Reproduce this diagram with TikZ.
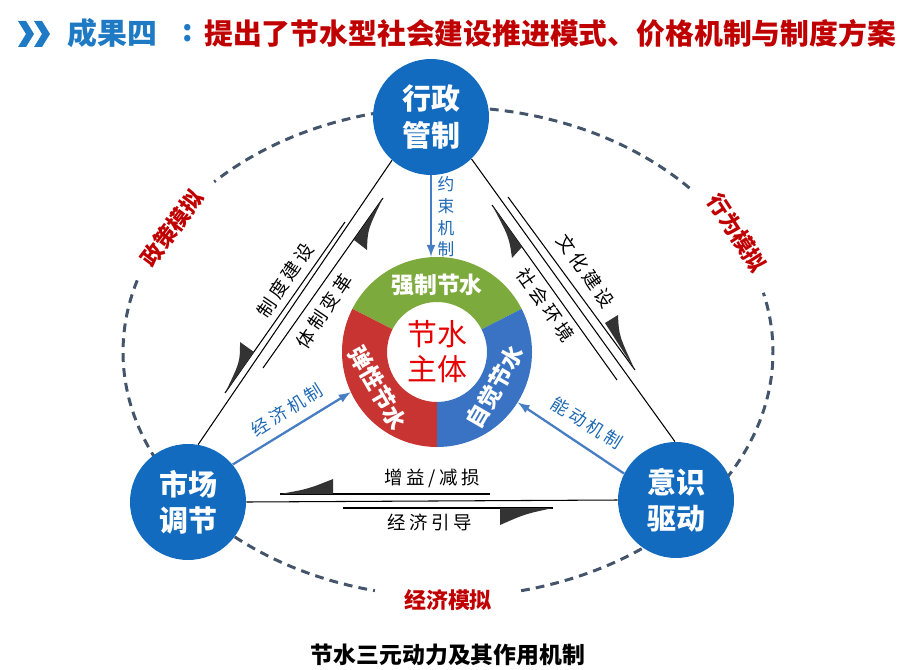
\documentclass[tikz,border=0pt]{standalone}
\usepackage{fontspec}
\setmainfont{Noto Sans CJK SC}
\newfontfamily\widefont[LetterSpace=20]{Noto Sans CJK SC}
\usepackage{tikz}
\usetikzlibrary{calc}
\usetikzlibrary{positioning}

\definecolor{hubblue}{RGB}{18,107,190}
\definecolor{titleblue}{RGB}{30,122,196}
\definecolor{darkred}{RGB}{192,0,0}
\definecolor{dashgray}{RGB}{68,84,106}
\definecolor{arrowblue}{RGB}{70,125,195}
\definecolor{labelblue}{RGB}{30,105,180}
\definecolor{ringgreen}{RGB}{125,170,60}
\definecolor{ringred}{RGB}{200,52,50}
\definecolor{ringblue}{RGB}{58,115,195}
\definecolor{heartred}{RGB}{230,0,0}

\begin{document}
\begin{tikzpicture}[x=0.02cm, y=-0.02cm,
    hub/.style={circle, fill=hubblue, text=white, inner sep=0pt, minimum size=2.32cm,
        align=center, font=\fontsize{16.5}{20.5}\selectfont\bfseries},
    mode/.style={text=darkred, font=\fontsize{12.5}{15}\selectfont\bfseries},
    flow/.style={font=\widefont\fontsize{10.5}{12}\selectfont},
    mech/.style={text=labelblue, font=\widefont\fontsize{10}{12}\selectfont},
    ringtext/.style={text=white, font=\fontsize{13}{15}\selectfont\bfseries},
    drive/.style={draw=arrowblue, line width=1.3pt, -latex},
    wedge/.style={fill=black!80},
    orbit/.style={draw=dashgray, line width=1.7pt, dash pattern=on 5pt off 3.5pt}]
    \useasboundingbox (0,0) rectangle (915,669);

    % title
    \fill[titleblue] (18,21) -- (26,21) -- (34,34) -- (26,47) -- (18,47) -- (26,34) -- cycle;
    \fill[titleblue] (34,21) -- (42,21) -- (50,34) -- (42,47) -- (34,47) -- (42,34) -- cycle;
    \node[anchor=west, inner sep=0pt, text=titleblue, font=\fontsize{17}{20}\selectfont\bfseries] (head) at (67,33) {成果四};
    \node[inner sep=0pt, text=titleblue, font=\fontsize{17}{20}\selectfont\bfseries] (colon) at (188,33) {:};
    \node[anchor=west, inner sep=0pt, text=darkred, font=\fontsize{16.4}{20}\selectfont\bfseries] (headline) at (204,33) {提出了节水型社会建设推进模式、价格机制与制度方案};

    % dashed orbit
    \draw[orbit] plot[domain=42:136, samples=60, variable=\t] ({448+325*cos(\t)}, {352-245*sin(\t)});
    \draw[orbit] plot[domain=163:257, samples=60, variable=\t] ({448+325*cos(\t)}, {352-245*sin(\t)});
    \draw[orbit] plot[domain=283:374, samples=60, variable=\t] ({448+325*cos(\t)}, {352-245*sin(\t)});
    \node[mode, rotate=53] (policy) at (172,228) {政策模拟};
    \node[mode, rotate=-57] (behave) at (737,233) {行为模拟};
    \node[mode] (econ) at (448,600) {经济模拟};

    \node[hub] (admin) at (431,117) {行政\\管制};
    \node[hub] (market) at (188,502) {市场\\调节};
    \node[hub] (aware) at (676,500) {意识\\驱动};

    \draw[line width=0.6pt] (admin.228) -- (market.80);
    \draw[line width=0.6pt] (admin.314) -- (aware.91);
    \draw[line width=0.6pt] (market.east) -- (aware.west);

    % ring
    \node[circle, inner sep=0pt, minimum size=3.8cm] (ring) at (437,352) {};
    \begin{scope}[shift={(ring.center)}, x=0.02cm, y=0.02cm]
        \fill[ringgreen] (27:95) arc[start angle=27, end angle=153, radius=95]
            -- (153:50) arc[start angle=153, end angle=27, radius=50] -- cycle;
        \fill[ringred] (153:95) arc[start angle=153, end angle=270, radius=95]
            -- (270:50) arc[start angle=270, end angle=153, radius=50] -- cycle;
        \fill[ringblue] (-90:95) arc[start angle=-90, end angle=27, radius=95]
            -- (27:50) arc[start angle=27, end angle=-90, radius=50] -- cycle;
    \end{scope}
    \node[ringtext] at (437,285) {强制节水};
    \node[ringtext, rotate=60] at (495,387) {自觉节水};
    \node[ringtext, rotate=-60] at (378,388) {弹性节水};
    \node[align=center, text=heartred, font=\fontsize{17}{20}\selectfont] (core) at (ring.center) {节水\\主体};

    % paired half arrows
    \draw[line width=0.6pt] (345,222) -- (225,393);
    \fill[wedge] (225,393) -- (254,352) -- (240,342) .. controls ($(225,393)!0.5!(240,342)!0.35!(254,352)$) .. cycle;
    \draw[line width=0.6pt] (263,368) -- (383,198);
    \fill[wedge] (383,198) -- (354,240) -- (367,250) .. controls ($(383,198)!0.5!(367,250)!0.35!(354,240)$) .. cycle;
    \draw[line width=0.6pt] (508,197) -- (635,370);
    \fill[wedge] (635,370) -- (605,323) -- (618,315) .. controls ($(635,370)!0.5!(618,315)!0.35!(605,323)$) .. cycle;
    \draw[line width=0.6pt] (492,205) -- (617,380);
    \fill[wedge] (492,205) -- (522,247) -- (512,258) .. controls ($(492,205)!0.5!(512,258)!0.35!(522,247)$) .. cycle;
    \draw[line width=0.6pt] (280,494) -- (490,494);
    \fill[wedge] (280,494) -- (333,494) -- (333,479) .. controls (308,489) .. cycle;
    \draw[line width=0.6pt] (343,508) -- (553,508);
    \fill[wedge] (553,508) -- (500,508) -- (500,525) .. controls (525,514) .. cycle;

    \node[flow, rotate=56] at (285,280) {制度建设};
    \node[flow, rotate=56] at (324,311) {体制变革};
    \node[flow, rotate=-55] at (586,271) {文化建设};
    \node[flow, rotate=-55] at (546,305) {社会环境};
    \node[flow] at (432,478) {增益/减损};
    \node[flow] at (430,522) {经济引导};

    % mechanisms
    \draw[drive] (admin.south) -- (admin.south |- ring.north);
    \draw[drive] (market.40) -- (ring.205);
    \draw[drive] (aware.153) -- (ring.-32);
    \node[text=labelblue, align=center, inner sep=0pt, font=\fontsize{9.5}{12.3}\selectfont] at (446,217) {约\\束\\机\\制};
    \node[mech, rotate=32] at (287,410) {经济机制};
    \node[mech, rotate=-32] at (587,423) {能动机制};

    \node[font=\fontsize{13}{15}\selectfont\bfseries] (caption) at (448,655) {节水三元动力及其作用机制};
\end{tikzpicture}
\end{document}
